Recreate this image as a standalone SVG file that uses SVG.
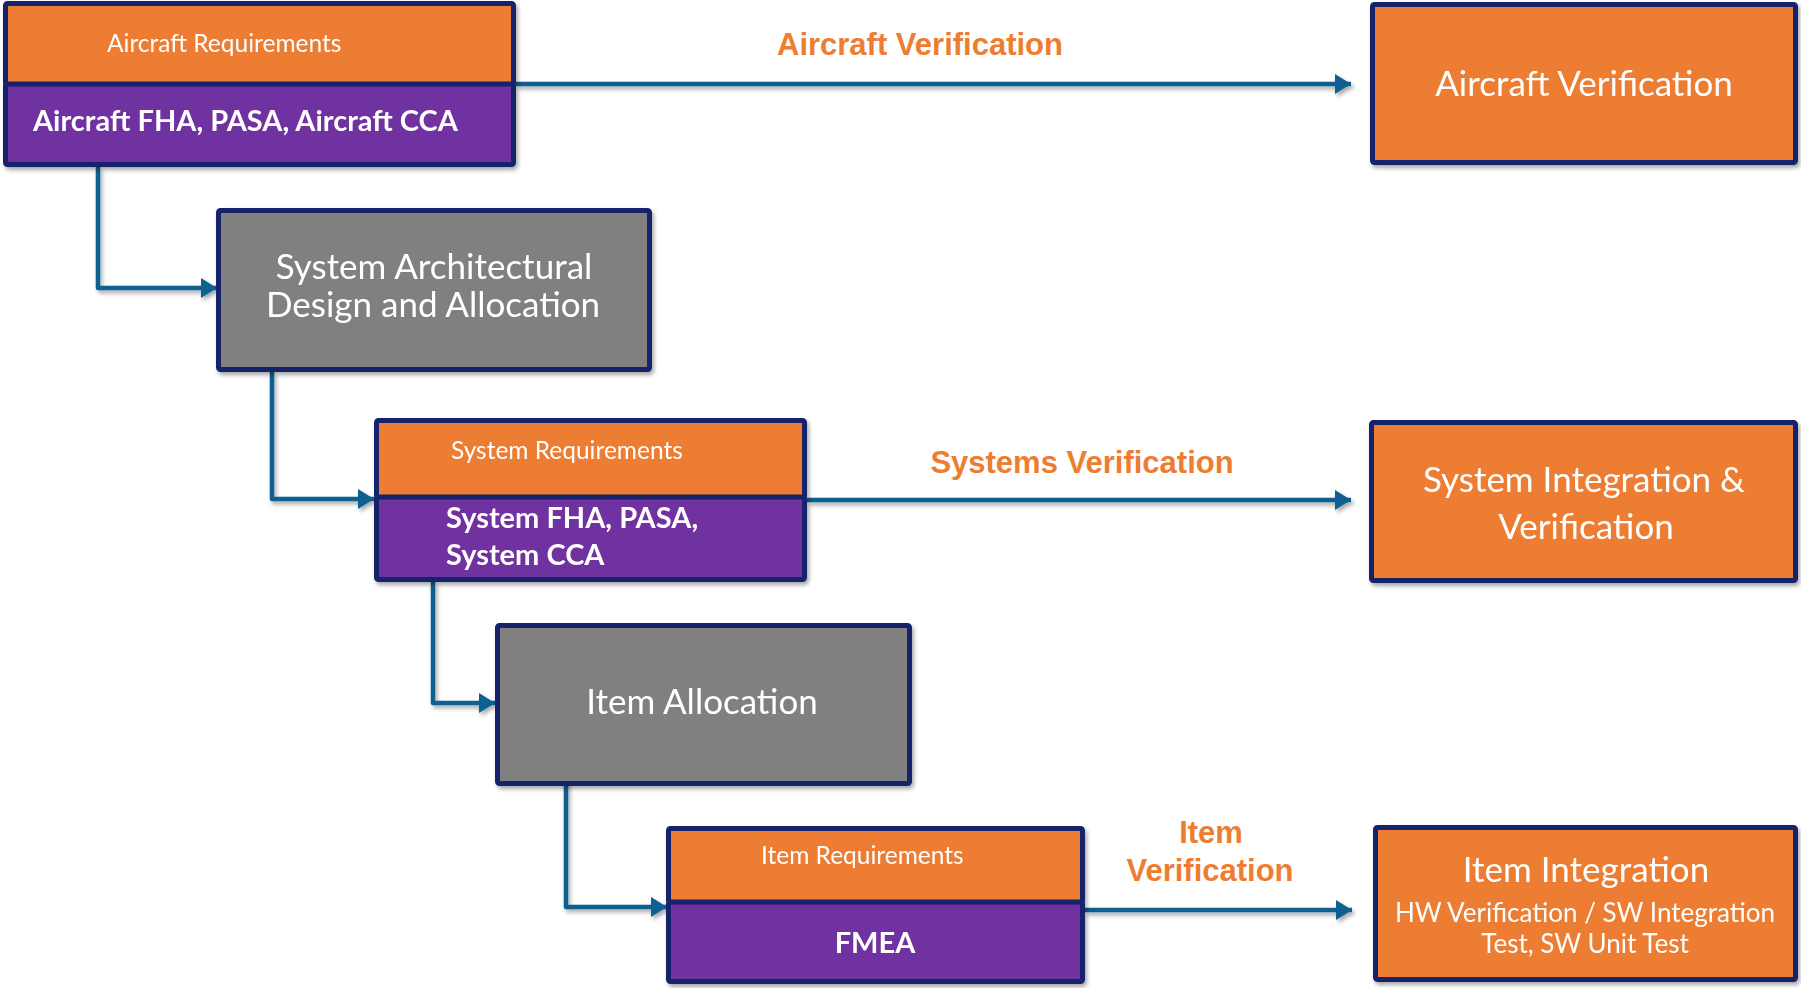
<svg xmlns="http://www.w3.org/2000/svg" width="1801" height="988" viewBox="0 0 1801 988">
  <style>
    .box { stroke: #14216B; stroke-width: 5; }
    .orange { fill: #ED7D31; }
    .purple { fill: #7030A0; }
    .gray { fill: #808080; }
    .conn { fill: none; stroke: #10608F; stroke-width: 4.5; stroke-linejoin: round; }
    .t { font-family: Lato, "Open Sans", sans-serif; fill: #ffffff; }
    .big { font-size: 35px; text-anchor: middle; }
    .small { font-size: 24.5px; }
    .bold { font-size: 29px; font-weight: bold; }
    .sub { font-size: 26px; text-anchor: middle; }
    .lbl { font-family: "Liberation Sans", Arial, sans-serif; font-weight: bold; font-size: 31px; fill: #ED7D31; text-anchor: middle; }
  </style>
  <defs>
    <marker id="arrow" markerUnits="userSpaceOnUse" markerWidth="17" markerHeight="21" refX="16" refY="10" orient="auto">
      <path d="M0,0 L16,10 L0,20 z" fill="#10608F"/>
    </marker>
    <filter id="shadow" x="-5%" y="-5%" width="112%" height="120%">
      <feGaussianBlur in="SourceAlpha" stdDeviation="2"/>
      <feOffset dx="2" dy="3" result="b"/>
      <feComponentTransfer><feFuncA type="linear" slope="0.35"/></feComponentTransfer>
      <feMerge><feMergeNode/><feMergeNode in="SourceGraphic"/></feMerge>
    </filter>
  </defs>
  <rect width="1801" height="988" fill="#ffffff"/>

  <!-- connectors -->
  <g id="connectors" filter="url(#shadow)">
    <path class="conn" d="M516,84 H1351" marker-end="url(#arrow)"/>
    <path class="conn" d="M98,167 V288 H217" marker-end="url(#arrow)"/>
    <path class="conn" d="M272,372 V499 H374" marker-end="url(#arrow)"/>
    <path class="conn" d="M807,500 H1351" marker-end="url(#arrow)"/>
    <path class="conn" d="M433,582 V703 H495" marker-end="url(#arrow)"/>
    <path class="conn" d="M566,778 V907 H667" marker-end="url(#arrow)"/>
    <path class="conn" d="M1085,910 H1352" marker-end="url(#arrow)"/>
  </g>

  <!-- connector labels -->
  <g id="labels">
    <text class="lbl" x="920" y="55">Aircraft  Verification</text>
    <text class="lbl" x="1082" y="473">Systems Verification</text>
    <text class="lbl" x="1211" y="843">Item</text>
    <text class="lbl" x="1210" y="881">Verification</text>
  </g>

  <!-- aircraft requirements -->
  <g id="aircraft-requirements" filter="url(#shadow)">
    <rect class="box orange" x="5.5" y="3.5" width="508" height="81" rx="2"/>
    <rect class="box purple" x="5.5" y="84" width="508" height="80.5" rx="2"/>
    <text class="t small" x="107" y="52">Aircraft Requirements</text>
    <text class="t bold" x="33" y="131">Aircraft FHA, PASA, Aircraft CCA</text>
  </g>

  <!-- system architectural design -->
  <g id="system-architecture" filter="url(#shadow)">
    <rect class="box gray" x="218.5" y="210.5" width="431" height="159" rx="2"/>
    <text class="t big" x="434" y="279">System Architectural</text>
    <text class="t big" x="433" y="317">Design and Allocation</text>
  </g>

  <!-- system requirements -->
  <g id="system-requirements" filter="url(#shadow)">
    <rect class="box orange" x="376.5" y="420.5" width="428" height="77" rx="2"/>
    <rect class="box purple" x="376.5" y="497" width="428" height="82.5" rx="2"/>
    <text class="t small" x="451" y="459">System Requirements</text>
    <text class="t bold" x="446" y="528">System FHA, PASA,</text>
    <text class="t bold" x="446" y="565">System CCA</text>
  </g>

  <!-- item allocation -->
  <g id="item-allocation" filter="url(#shadow)">
    <rect class="box gray" x="497.5" y="625.5" width="412" height="158" rx="2"/>
    <text class="t big" x="702" y="714">Item Allocation</text>
  </g>

  <!-- item requirements -->
  <g id="item-requirements" filter="url(#shadow)">
    <rect class="box orange" x="668.5" y="828.5" width="414" height="74" rx="2"/>
    <rect class="box purple" x="668.5" y="902" width="414" height="79.5" rx="2"/>
    <text class="t small" x="761" y="864">Item Requirements</text>
    <text class="t bold" x="875" y="953" text-anchor="middle">FMEA</text>
  </g>

  <!-- aircraft verification -->
  <g id="aircraft-verification" filter="url(#shadow)">
    <rect class="box orange" x="1372.5" y="4.5" width="423" height="158" rx="2"/>
    <text class="t big" x="1584" y="96">Aircraft Verification</text>
  </g>

  <!-- system integration -->
  <g id="system-integration" filter="url(#shadow)">
    <rect class="box orange" x="1371.5" y="422.5" width="424" height="158" rx="2"/>
    <text class="t big" x="1584" y="492">System Integration &amp;</text>
    <text class="t big" x="1586" y="539">Verification</text>
  </g>

  <!-- item integration -->
  <g id="item-integration" filter="url(#shadow)">
    <rect class="box orange" x="1375.5" y="827.5" width="420" height="152" rx="2"/>
    <text class="t big" x="1586" y="882">Item Integration</text>
    <text class="t sub" x="1585" y="922">HW Verification / SW Integration</text>
    <text class="t sub" x="1585" y="953">Test, SW Unit Test</text>
  </g>
</svg>
